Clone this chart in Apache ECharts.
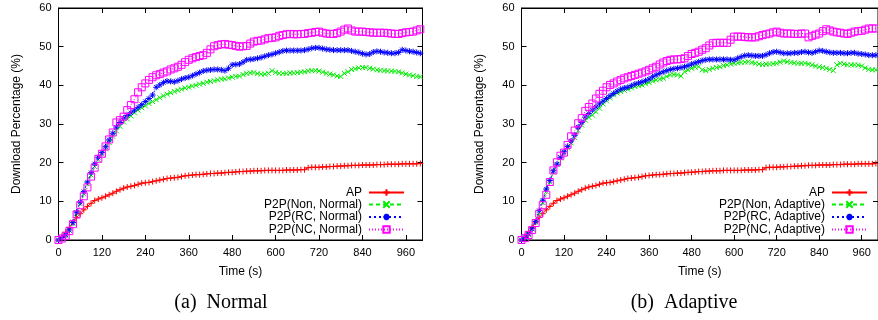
<!DOCTYPE html>
<html><head><meta charset="utf-8">
<script src="https://cdn.jsdelivr.net/npm/echarts@6/dist/echarts.min.js"></script>
<style>html,body{margin:0;padding:0;background:#fff}#c{width:878px;height:320px}</style>
</head><body><div id="c"></div>
<script>
const times = [0,10,20,30,40,50,60,70,80,90,100,110,120,130,140,150,160,170,180,190,200,210,220,230,240,250,260,270,280,290,300,310,320,330,340,350,360,370,380,390,400,410,420,430,440,450,460,470,480,490,500,510,520,530,540,550,560,570,580,590,600,610,620,630,640,650,660,670,680,690,700,710,720,730,740,750,760,770,780,790,800,810,820,830,840,850,860,870,880,890,900,910,920,930,940,950,960,970,980,990,1000];
const xTicks = [0,120,240,360,480,600,720,840,960];
const yTicks = [0,10,20,30,40,50,60];

const apData = [0,0.9,2.0,3.3,4.6,5.8,6.8,7.8,8.7,9.5,10.2,10.6,10.9,11.3,11.7,12.1,12.6,13.0,13.4,13.7,13.9,14.1,14.4,14.7,14.8,14.9,15.1,15.3,15.5,15.7,15.9,16.0,16.1,16.2,16.4,16.6,16.7,16.8,16.9,16.9,17.0,17.1,17.2,17.2,17.3,17.3,17.4,17.5,17.5,17.6,17.7,17.7,17.8,17.8,17.9,17.9,17.9,18.0,18.0,18.0,18.0,18.0,18.0,18.1,18.1,18.1,18.1,18.2,18.2,18.7,18.8,18.8,18.8,18.9,18.9,19.0,19.0,19.1,19.1,19.2,19.2,19.3,19.3,19.3,19.4,19.4,19.4,19.4,19.5,19.5,19.5,19.6,19.6,19.6,19.6,19.7,19.7,19.7,19.7,19.7,19.8];

const nonNormal = [0,0.5,1.2,2.5,4.3,6.9,9.4,12.0,14.5,16.8,19.0,20.8,22.2,23.6,25.2,26.8,28.2,29.4,30.5,31.3,32.1,32.9,33.6,34.2,34.7,35.3,35.8,36.3,36.8,37.3,37.7,38.1,38.4,38.7,39.0,39.3,39.5,39.8,40.0,40.3,40.5,40.8,41.0,41.2,41.4,41.6,41.7,41.9,42.1,42.3,42.4,42.8,43.1,43.2,43.3,43.0,42.9,42.9,43.1,43.8,43.3,43.1,43.1,43.1,43.2,43.2,43.3,43.4,43.5,43.7,43.8,43.8,43.7,43.4,43.1,42.9,42.7,42.4,42.3,43.1,43.5,44.1,44.3,44.5,44.6,44.6,44.4,44.2,44.0,43.9,43.8,43.7,43.7,43.6,43.5,43.2,42.9,42.7,42.5,42.3,42.2];

const rcNormal = [0,0.6,1.3,2.6,4.5,7.2,9.8,12.5,15.0,17.4,19.7,21.4,22.6,24.1,25.9,27.6,29.2,30.4,31.5,32.2,32.9,33.6,34.3,35.0,35.8,36.6,37.5,39.5,40.1,40.7,41.1,41.0,40.9,41.2,41.6,41.9,42.1,42.5,42.9,43.3,43.7,43.9,44.0,44.1,44.1,44.0,43.8,44.4,45.3,45.4,45.5,46.0,46.6,46.7,46.8,47.0,47.2,47.5,47.8,48.0,48.3,48.6,48.9,49.0,49.0,49.0,49.0,49.0,49.1,49.3,49.6,49.7,49.7,49.5,49.3,49.2,49.1,49.1,49.1,49.1,49.1,48.9,48.7,48.5,48.2,48.0,48.1,48.6,48.8,48.7,48.5,48.4,48.3,48.3,48.5,49.2,49.0,48.8,48.7,48.5,48.3];

const ncNormal = [0,0.4,1.1,2.3,4.1,6.6,9.0,11.3,13.6,16.4,18.7,21.0,22.3,24.2,26.0,27.8,30.4,31.0,31.9,33.6,34.9,36.4,38.2,39.5,40.5,41.4,42.1,42.6,42.9,43.3,43.6,44.1,44.4,44.8,45.3,46.0,46.6,47.0,47.3,47.6,47.8,48.4,49.3,50.1,50.4,50.6,50.7,50.5,50.4,50.2,50.0,50.1,50.2,50.8,51.3,51.5,51.6,51.9,52.2,52.3,52.4,52.8,53.0,53.2,53.3,53.2,53.2,53.3,53.3,53.5,53.6,53.8,53.9,53.6,53.4,53.3,53.3,53.5,53.9,54.4,54.7,54.2,53.9,53.9,53.9,53.8,53.7,53.6,53.6,53.6,53.6,53.5,53.4,53.3,53.3,53.5,53.7,53.8,53.9,54.2,54.5];

const nonAdaptive = [0,0.6,1.4,2.8,4.6,7.1,9.7,12.5,15.0,17.6,19.5,21.2,22.5,23.8,25.1,26.5,28.3,29.7,31.0,31.7,32.3,33.2,34.1,35.2,36.0,36.8,37.5,38.0,38.4,38.7,39.0,39.4,39.7,39.9,40.1,40.4,40.7,41.1,41.4,41.6,41.8,42.3,42.7,42.8,42.7,42.4,43.5,44.0,44.4,44.7,44.8,44.0,43.8,44.1,44.4,44.6,44.8,45.1,45.3,45.5,45.7,45.8,45.9,46.0,46.1,45.9,45.7,45.5,45.4,45.5,45.5,45.6,45.7,46.0,46.3,46.1,45.9,45.8,45.7,45.7,45.7,45.5,45.3,45.0,44.8,44.6,44.4,44.1,43.8,45.3,45.7,45.5,45.3,45.3,45.3,45.2,45.0,44.5,44.1,44.0,44.0];

const rcAdaptive = [0,0.6,1.6,2.9,4.8,7.6,10.3,13.2,15.4,17.9,19.6,21.4,22.8,24.2,25.6,27.1,29.2,30.4,31.8,32.7,33.6,34.4,35.2,35.9,36.6,37.3,37.9,38.5,39.0,39.3,39.5,39.9,40.3,40.6,40.9,41.2,41.6,42.2,42.7,43.1,43.5,43.8,44.1,44.3,44.4,44.6,44.8,45.1,45.5,45.8,46.1,46.4,46.6,46.7,46.7,46.7,46.7,46.7,46.7,46.6,46.6,47.0,47.4,47.7,47.8,47.7,47.6,47.6,47.6,47.9,48.3,48.6,48.7,48.5,48.3,48.3,48.3,48.4,48.4,48.6,48.7,48.5,48.4,48.7,49.0,48.9,48.7,48.5,48.4,48.4,48.4,48.3,48.3,48.4,48.4,48.2,48.1,48.0,47.8,47.8,47.8];

const ncAdaptive = [0,0.5,1.3,2.6,4.4,6.8,9.0,11.7,15.0,18.0,20.1,21.8,22.6,24.6,26.8,28.3,30.2,31.5,33.4,34.4,35.3,36.6,37.8,38.6,39.5,40.1,40.5,41.0,41.4,41.8,42.1,42.4,42.7,43.0,43.3,43.6,44.0,44.4,44.8,45.4,45.9,46.3,46.6,46.7,46.7,46.8,47.0,47.6,48.1,48.4,48.7,49.2,49.6,50.3,50.9,51.0,51.0,51.0,51.0,51.8,52.6,52.6,52.6,52.5,52.4,52.4,52.4,52.7,53.0,53.2,53.4,53.7,53.9,53.6,53.4,53.4,53.4,53.3,53.3,53.4,53.4,52.4,52.8,53.1,53.4,54.0,54.5,54.2,53.9,53.7,53.6,53.4,53.3,53.6,53.9,54.0,54.1,54.4,54.7,54.7,54.7];

const namesNormal = ['AP','P2P(Non, Normal)','P2P(RC, Normal)','P2P(NC, Normal)'];
const namesAdaptive = ['AP','P2P(Non, Adaptive)','P2P(RC, Adaptive)','P2P(NC, Adaptive)'];
const captions = ['(a)  Normal','(b)  Adaptive'];

const FONT = 'Liberation Sans';
const styles = [
  {color:'#ff0000', type:'solid', symbol:'path://M0,5L10,5M5,0L5,10', size:6},
  {color:'#00ee00', type:[4,3], symbol:'path://M0,0L10,10M10,0L0,10', size:5},
  {color:'#0000ff', type:[2,3], symbol:'path://M0,5L10,5M5,0L5,10M1.5,1.5L8.5,8.5M8.5,1.5L1.5,8.5', size:6},
  {color:'#ff00ff', type:[1,2], symbol:'path://M0,0L10,0L10,10L0,10Z', size:7}
];

function pairs(arr){ return arr.map((v,i)=>[times[i], v]); }

function mkSeries(name, arr, k, gi){
  const s = styles[k];
  return {
    type:'line', name, data:pairs(arr), xAxisIndex:gi*2, yAxisIndex:gi*2,
    symbol:s.symbol, symbolSize:s.size, showSymbol:true, showAllSymbol:true,
    lineStyle:{color:s.color, width:1, type:s.type},
    itemStyle:{color: k===3 ? 'rgba(0,0,0,0)' : s.color, borderColor:s.color, borderWidth:1},
    emphasis:{disabled:true}, animation:false, z:2+k
  };
}

const xMax = 1006;
function xAx(gi, pos){
  return {type:'value', gridIndex:gi, position:pos, min:0, max:xMax, interval:120,
    axisLine:{show:true, onZero:false, lineStyle:{color:'#000', width:1}},
    axisTick:{show:true, inside:true, length:5, lineStyle:{color:'#000'}},
    axisLabel:{show: pos==='bottom', color:'#000', fontSize:11, fontFamily:FONT, margin:7, showMaxLabel:false,
      formatter:(v)=> xTicks.indexOf(v)>=0 ? String(v) : ''},
    splitLine:{show:false},
    name: pos==='bottom' ? 'Time (s)' : '', nameLocation:'middle', nameGap:26,
    nameTextStyle:{color:'#000', fontSize:12, fontFamily:FONT}};
}
function yAx(gi, pos){
  return {type:'value', gridIndex:gi, position:pos, min:0, max:60, interval:10,
    axisLine:{show:true, onZero:false, lineStyle:{color:'#000', width:1}},
    axisTick:{show:true, inside:true, length:5, lineStyle:{color:'#000'}},
    axisLabel:{show: pos==='left', color:'#000', fontSize:11, fontFamily:FONT, margin:7,
      formatter:(v)=> yTicks.indexOf(v)>=0 ? String(v) : ''},
    splitLine:{show:false},
    name: pos==='left' ? 'Download Percentage (%)' : '', nameLocation:'middle', nameGap:36,
    nameTextStyle:{color:'#000', fontSize:12, fontFamily:FONT}};
}

const rowTops = [186, 198, 210.5, 223];
const legends = [];
function addLegends(names, right){
  names.forEach((n,i)=>{
    legends.push({right:right, top:rowTops[i], orient:'horizontal', align:'right', padding:0,
      itemWidth:35, itemHeight:8, itemGap:0, selectedMode:false, data:[n],
      textStyle:{color:'#000', fontSize:12, fontFamily:FONT, lineHeight:13, padding:[0,2,0,0]}});
  });
}
addLegends(namesNormal, 473);
addLegends(namesAdaptive, 10);

const series = [
  mkSeries(namesNormal[0], apData, 0, 0),
  mkSeries(namesNormal[1], nonNormal, 1, 0),
  mkSeries(namesNormal[2], rcNormal, 2, 0),
  mkSeries(namesNormal[3], ncNormal, 3, 0),
  mkSeries(namesAdaptive[0], apData, 0, 1),
  mkSeries(namesAdaptive[1], nonAdaptive, 1, 1),
  mkSeries(namesAdaptive[2], rcAdaptive, 2, 1),
  mkSeries(namesAdaptive[3], ncAdaptive, 3, 1)
];

const chart = echarts.init(document.getElementById('c'), null, {renderer:'canvas'});
chart.setOption({
  backgroundColor:'#fff',
  animation:false,
  grid:[
    {left:58.5, top:8, width:364, height:232, show:true, borderColor:'#000', borderWidth:1, containLabel:false},
    {left:521.5, top:8, width:364, height:232, show:true, borderColor:'#000', borderWidth:1, containLabel:false}
  ],
  xAxis:[xAx(0,'bottom'), xAx(0,'top'), xAx(1,'bottom'), xAx(1,'top')],
  yAxis:[yAx(0,'left'), yAx(0,'right'), yAx(1,'left'), yAx(1,'right')],
  legend:legends,
  graphic:[
    {type:'text', x:221, y:303, style:{text:captions[0], fontSize:20, fontFamily:'Liberation Serif', fill:'#000', align:'center', verticalAlign:'middle'}},
    {type:'text', x:684, y:303, style:{text:captions[1], fontSize:20, fontFamily:'Liberation Serif', fill:'#000', align:'center', verticalAlign:'middle'}}
  ],
  series
});
</script>
</body></html>
